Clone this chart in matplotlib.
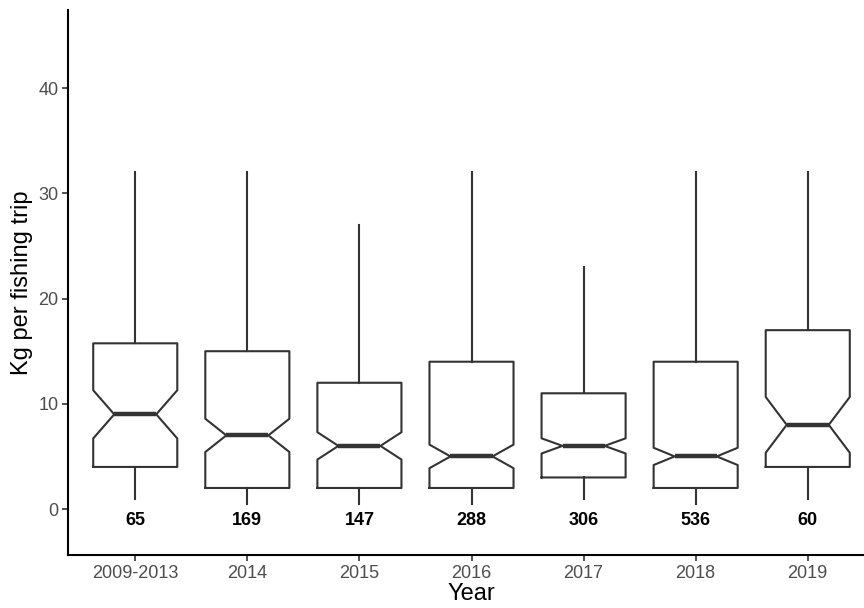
import matplotlib
matplotlib.use("Agg")
import matplotlib.pyplot as plt

plt.rcParams['font.family'] = ['Liberation Sans', 'DejaVu Sans']

categories = ["2009-2013", "2014", "2015", "2016", "2017", "2018", "2019"]
q1 = [4, 2, 2, 2, 3, 2, 4]
median = [9, 7, 6, 5, 6, 5, 8]
q3 = [15.75, 15, 12, 14, 11, 14, 17]
whislo = [1, 0.5, 0.5, 0.5, 1, 0.5, 1]
whishi = [32, 32, 27, 32, 23, 32, 32]
notch_lo = [6.71, 5.42, 4.70, 3.88, 5.28, 4.18, 5.35]
notch_hi = [11.29, 8.58, 7.30, 6.12, 6.72, 5.82, 10.65]
counts = [65, 169, 147, 288, 306, 536, 60]

fig = plt.figure(figsize=(8.64, 6.08), dpi=100)
ax = fig.add_axes([68/864, 53/608, (875-68)/864, (555-10)/608])

stats = []
for i in range(len(categories)):
    stats.append(dict(q1=q1[i], med=median[i], q3=q3[i], whislo=whislo[i],
                      whishi=whishi[i], cilo=notch_lo[i], cihi=notch_hi[i],
                      fliers=[], label=categories[i]))

lc = "#333333"
ax.bxp(stats, positions=range(len(categories)), widths=0.75, shownotches=True,
       showcaps=False, showfliers=False, patch_artist=False,
       boxprops=dict(color=lc, linewidth=1.5),
       whiskerprops=dict(color=lc, linewidth=1.5),
       medianprops=dict(color=lc, linewidth=3.2, solid_capstyle='butt'))

for i, n in enumerate(counts):
    ax.text(i, -1.1, str(n), ha='center', va='center', fontsize=13,
            fontweight='bold', color='black')

ax.set_xlim(-0.6, len(categories) - 0.4)
ax.set_ylim(-4.37, 47.43)
ax.set_yticks([0, 10, 20, 30, 40])
ax.set_xticks(range(len(categories)))
ax.set_xticklabels(categories)

for s in ['top', 'right']:
    ax.spines[s].set_visible(False)
for s in ['left', 'bottom']:
    ax.spines[s].set_color('black')
    ax.spines[s].set_linewidth(1.5)

ax.tick_params(axis='both', colors=lc, labelcolor='#4D4D4D', labelsize=13,
               length=4, width=1.2, pad=3)

ax.set_xlabel("Year", fontsize=17, color='black', labelpad=1)
ax.set_ylabel("Kg per fishing trip", fontsize=17, color='black', labelpad=4)

fig.savefig("out.png", dpi=100)
